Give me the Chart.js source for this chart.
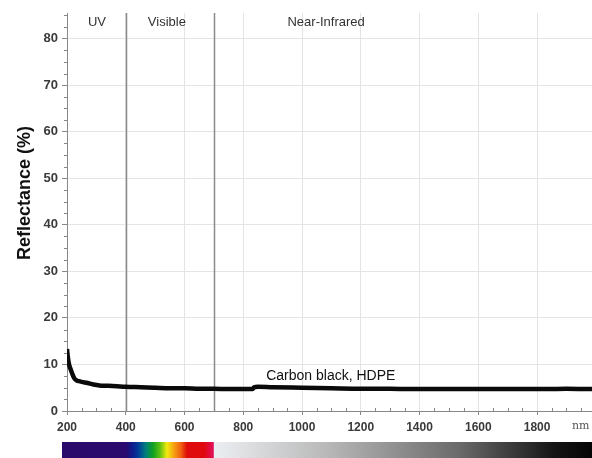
<!DOCTYPE html>
<html>
<head>
<meta charset="utf-8">
<script src="https://cdn.jsdelivr.net/npm/chart.js@4.4.0/dist/chart.umd.min.js"></script>
<style>
html,body{margin:0;padding:0;background:#fff;}
#wrap{width:592px;height:458px;}
</style>
</head>
<body>
<div id="wrap"><canvas id="c" width="592" height="458"></canvas></div>
<script>
// Wavelength (nm) and reflectance (%)
const wavelengths = [200, 203, 207, 212, 218, 225, 232, 240, 255, 270, 290, 310, 340, 370, 400, 450, 500, 550, 600, 650, 700, 750, 800, 832, 836, 850, 900, 1000, 1100, 1200, 1300, 1400, 1500, 1600, 1700, 1800, 1900, 1987];
const reflectance = [13.3, 11.5, 10.0, 9.0, 8.0, 7.0, 6.6, 6.4, 6.2, 6.0, 5.7, 5.5, 5.4, 5.3, 5.2, 5.1, 5.0, 4.9, 4.9, 4.8, 4.8, 4.7, 4.7, 4.7, 5.1, 5.2, 5.1, 5.0, 4.9, 4.8, 4.8, 4.7, 4.7, 4.7, 4.7, 4.7, 4.8, 4.7];
const xTicks = [200, 400, 600, 800, 1000, 1200, 1400, 1600, 1800];
const yTicks = [0, 10, 20, 30, 40, 50, 60, 70, 80];
const regionBounds = [400, 700];
const regionLabels = [{text: 'UV', x: 302}, {text: 'Visible', x: 540}, {text: 'Near-Infrared', x: 1082}];
const seriesLabel = 'Carbon black, HDPE';
const yTitle = 'Reflectance (%)';

const extras = {
  id: 'extras',
  beforeDatasetsDraw(chart) {
    const ctx = chart.ctx, xs = chart.scales.x, ys = chart.scales.y, a = chart.chartArea;
    ctx.save();
    // region separator lines
    ctx.strokeStyle = '#8a8a8a';
    ctx.lineWidth = 1.5;
    regionBounds.forEach(v => {
      const px = Math.round(xs.getPixelForValue(v)) + 0.5;
      ctx.beginPath(); ctx.moveTo(px, a.top); ctx.lineTo(px, a.bottom); ctx.stroke();
    });
    // minor ticks
    ctx.strokeStyle = '#888';
    ctx.lineWidth = 1;
    for (let v = 250; v < 1987; v += 50) {
      if (v % 200 === 0) continue;
      const px = Math.round(xs.getPixelForValue(v)) + 0.5;
      ctx.beginPath(); ctx.moveTo(px, a.bottom - 3); ctx.lineTo(px, a.bottom + 1); ctx.stroke();
    }
    for (let v = 2.5; v < 85.5; v += 2.5) {
      if (v % 10 === 0) continue;
      const py = Math.round(ys.getPixelForValue(v)) + 0.5;
      ctx.beginPath(); ctx.moveTo(a.left - 3, py); ctx.lineTo(a.left + 1, py); ctx.stroke();
    }
    // region labels
    ctx.fillStyle = '#333';
    ctx.font = '13px "Liberation Sans", Arial, sans-serif';
    ctx.textAlign = 'center';
    ctx.textBaseline = 'middle';
    regionLabels.forEach(r => ctx.fillText(r.text, xs.getPixelForValue(r.x), 22));
    // y title
    ctx.save();
    ctx.translate(25, 193);
    ctx.rotate(-Math.PI / 2);
    ctx.fillStyle = '#111';
    ctx.font = 'bold 18px "Liberation Sans", Arial, sans-serif';
    ctx.fillText(yTitle, 0, 0);
    ctx.restore();
    ctx.restore();
  },
  afterDraw(chart) {
    const ctx = chart.ctx, xs = chart.scales.x, ys = chart.scales.y;
    ctx.save();
    // series label
    ctx.fillStyle = '#111';
    ctx.font = '14px "Liberation Sans", Arial, sans-serif';
    ctx.textAlign = 'left';
    ctx.textBaseline = 'middle';
    ctx.fillText(seriesLabel, xs.getPixelForValue(878), ys.getPixelForValue(7.4));
    // nm unit
    ctx.fillStyle = '#555';
    ctx.font = '11px "DejaVu Serif", serif';
    ctx.fillText('nm', 572, 426);
    // spectrum bar
    const x0 = xs.getPixelForValue(183), x1 = xs.getPixelForValue(700);
    const top = 442, h = 458 - 442;
    const g = ctx.createLinearGradient(x0, 0, x1, 0);
    const span = x1 - x0;
    const stop = (px, c) => g.addColorStop(Math.min(1, Math.max(0, (px - x0) / span)), c);
    stop(62, '#2a0a6a'); stop(126, '#2a0a6e'); stop(132, '#101a8c'); stop(138, '#003a9a');
    stop(146, '#00807a'); stop(153, '#10a020'); stop(160, '#60c010'); stop(167, '#f2ea10');
    stop(174, '#f5a010'); stop(181, '#f06010'); stop(187, '#e00c0c'); stop(204, '#e0080c');
    stop(213, '#e0105a');
    ctx.fillStyle = g;
    ctx.fillRect(x0, top, x1 - x0, h);
    const g2 = ctx.createLinearGradient(x1, 0, 592, 0);
    g2.addColorStop(0, '#eceff2');
    g2.addColorStop(0.3, '#b8b8b8');
    g2.addColorStop(0.65, '#6a6a6a');
    g2.addColorStop(0.9, '#151515');
    g2.addColorStop(1, '#050505');
    ctx.fillStyle = g2;
    ctx.fillRect(x1, top, 592 - x1, h);
    ctx.restore();
  }
};

new Chart(document.getElementById('c'), {
  type: 'line',
  data: {
    labels: wavelengths,
    datasets: [{
      data: wavelengths.map((w, i) => ({x: w, y: reflectance[i]})),
      borderColor: '#0a0a0a',
      borderWidth: 4.5,
      pointRadius: 0,
      cubicInterpolationMode: 'monotone',
      fill: false
    }]
  },
  options: {
    responsive: false,
    animation: false,
    layout: {padding: {top: 13, right: 0, bottom: 17, left: 0}},
    plugins: {legend: {display: false}, tooltip: {enabled: false}},
    scales: {
      x: {
        type: 'linear',
        min: 200, max: 1987,
        afterBuildTicks: s => { s.ticks = xTicks.map(v => ({value: v})); },
        afterFit: s => { s.height = 30; },
        ticks: {
          callback: v => String(v),
          color: '#3a3a3a',
          font: {family: '"Liberation Sans", Arial, sans-serif', size: 12, weight: 'bold'},
          padding: 5,
          maxRotation: 0
        },
        grid: {color: '#e4e4e4', tickLength: 4, tickColor: '#888'},
        border: {color: '#888', width: 1}
      },
      y: {
        min: 0, max: 85.5,
        afterBuildTicks: s => { s.ticks = yTicks.map(v => ({value: v})); },
        afterFit: s => { s.width = 67; },
        ticks: {
          color: '#3a3a3a',
          font: {family: '"Liberation Sans", Arial, sans-serif', size: 13, weight: 'bold'},
          padding: 4
        },
        grid: {color: '#e4e4e4', tickLength: 5, tickColor: '#888'},
        border: {color: '#888', width: 1}
      }
    }
  },
  plugins: [extras]
});
</script>
</body>
</html>
